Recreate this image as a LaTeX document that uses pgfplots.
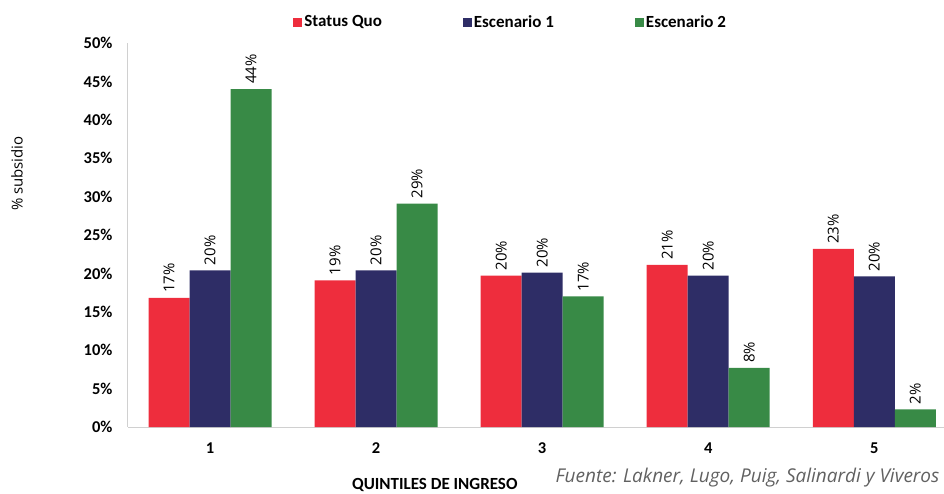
\documentclass[border=0pt]{standalone}
\usepackage{pgfplots}
\pgfplotsset{compat=1.18}
\usepackage{fontspec}
\setmainfont{Carlito}
\newfontfamily\srcfont{Open Sans}
\definecolor{sqred}{HTML}{EE2D3D}
\definecolor{escnavy}{HTML}{2E2D66}
\definecolor{escgreen}{HTML}{388A46}
\definecolor{axgray}{HTML}{D0D0D0}
\begin{document}
\begin{tikzpicture}
\useasboundingbox (-128pt,-66pt) rectangle (816pt,427pt);
\begin{axis}[
    scale only axis,
    width=816pt, height=384pt,
    ybar=0pt,
    bar width=41pt,
    xmin=0.506, xmax=5.42,
    ymin=0, ymax=50,
    xtick={1,2,3,4,5},
    ytick={0,5,...,50},
    yticklabel={\pgfmathprintnumber{\tick}\%},
    /pgf/number format/assume math mode=true,
    ticklabel style={font=\fontsize{16.5}{19}\selectfont\bfseries},
    yticklabel style={xshift=-12pt},
    xticklabel style={yshift=-12pt},
    major tick length=0pt,
    axis x line=bottom, axis y line=left,
    axis line style={draw=axgray, line width=1pt, -},
    nodes near coords={\pgfmathprintnumber[fixed,precision=0]{\pgfplotspointmeta}\%},
    nodes near coords style={rotate=90, anchor=west, inner sep=5pt,
        font=\fontsize{15}{18}\srcfont, text=black},
    legend style={at={(0.469,1)}, anchor=center, yshift=21pt, draw=none,
        fill=none, legend columns=3,
        font=\fontsize{17}{20}\selectfont\bfseries,
        /tikz/every even column/.append style={column sep=79pt}},
    legend image code/.code={\fill[#1] (0pt,-4.5pt) rectangle (9pt,4.5pt);},
    clip=false,
]
\addplot[draw=none, fill=sqred] coordinates {(1,16.8) (2,19.1) (3,19.7) (4,21.1) (5,23.2)};
\addplot[draw=none, fill=escnavy] coordinates {(1,20.4) (2,20.4) (3,20.1) (4,19.7) (5,19.6)};
\addplot[draw=none, fill=escgreen] coordinates {(1,44.0) (2,29.1) (3,17.0) (4,7.7) (5,2.3)};
\legend{Status Quo, Escenario 1, Escenario 2}
\node[font=\fontsize{17}{20}\selectfont\bfseries] at ([yshift=-58pt]rel axis cs:0.376,0) {QUINTILES DE INGRESO};
\node[rotate=90, font=\fontsize{15}{18}\srcfont] at ([xshift=-111pt]rel axis cs:0,0.66) {\% subsidio};
\node[anchor=east, font=\fontsize{19}{22}\srcfont\itshape, text=black!62] at ([xshift=-1pt,yshift=-51pt]rel axis cs:1,0) {Fuente: Lakner, Lugo, Puig, Salinardi y Viveros};
\end{axis}
\end{tikzpicture}
\end{document}
